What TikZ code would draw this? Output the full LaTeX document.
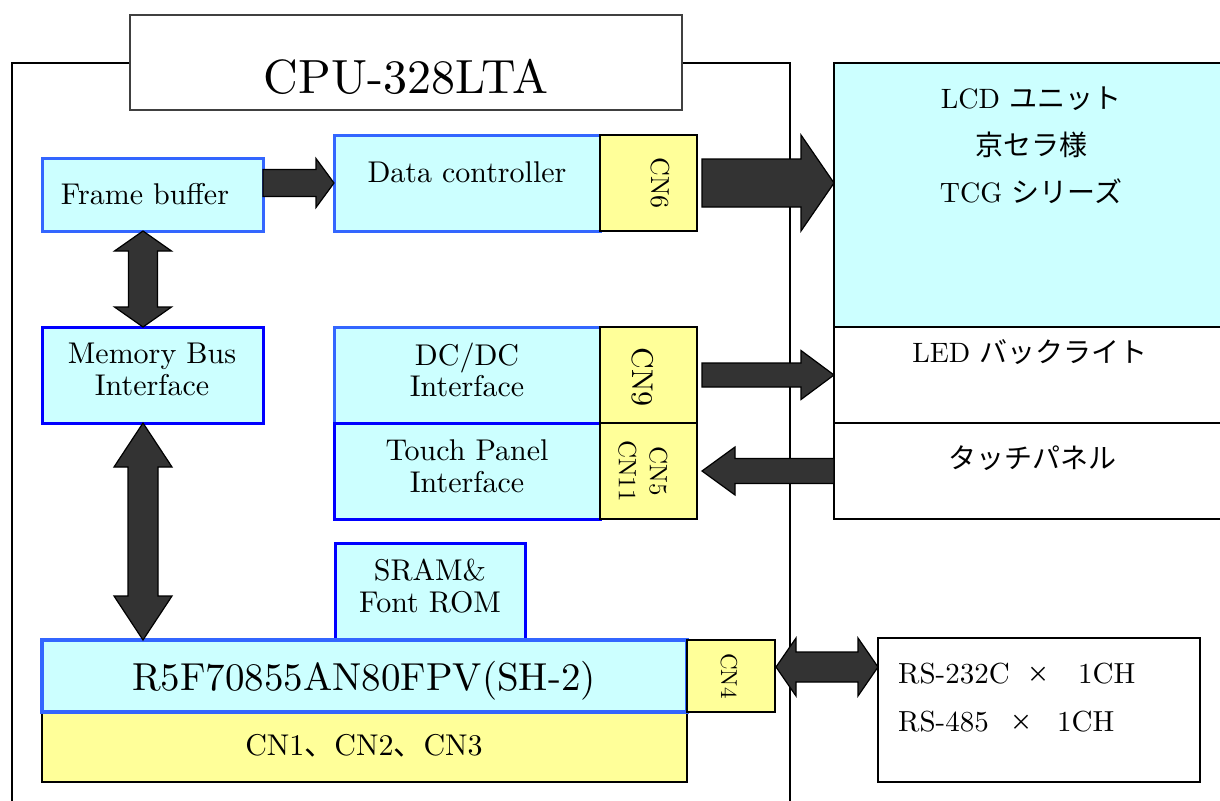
\documentclass[tikz,border=0pt]{standalone}
\usepackage{fontspec}
\setmainfont{lmroman10-regular.otf}
\newfontfamily\jp{Noto Sans CJK JP}
\usetikzlibrary{calc}
\definecolor{cy}{HTML}{CCFFFF}
\definecolor{yl}{HTML}{FFFF99}
\definecolor{lb}{HTML}{3366FF}
\definecolor{db}{HTML}{0000FF}
\definecolor{ar}{HTML}{333333}
\definecolor{tg}{HTML}{404040}
\newcommand\fs[1]{\fontsize{#1}{#1}\selectfont}
% single horizontal block arrow: tail, tip, shaft half, head half, signed head length
\newcommand\HArrow[5]{\draw[blk] let \p1=(#1),\p2=(#2) in
  (\x1,{\y2+#3}) -- ({\x2-(#5)},{\y2+#3}) -- ({\x2-(#5)},{\y2+#4}) -- (\x2,\y2)
  -- ({\x2-(#5)},{\y2-#4}) -- ({\x2-(#5)},{\y2-#3}) -- (\x1,{\y2-#3}) -- cycle;}
% double horizontal block arrow: left tip, right tip, shaft half, head half, head length
\newcommand\HHArrow[5]{\draw[blk] let \p1=(#1),\p2=(#2) in
  (\x1,\y1) -- ({\x1+#5},{\y1+#4}) -- ({\x1+#5},{\y1+#3}) -- ({\x2-#5},{\y1+#3})
  -- ({\x2-#5},{\y1+#4}) -- (\x2,\y1) -- ({\x2-#5},{\y1-#4}) -- ({\x2-#5},{\y1-#3})
  -- ({\x1+#5},{\y1-#3}) -- ({\x1+#5},{\y1-#4}) -- cycle;}
% double vertical block arrow: top tip, bottom tip, shaft half, head half, head length
\newcommand\VVArrow[5]{\draw[blk] let \p1=(#1),\p2=(#2) in
  (\x1,\y1) -- ({\x1+#4},{\y1-#5}) -- ({\x1+#3},{\y1-#5}) -- ({\x1+#3},{\y2+#5})
  -- ({\x1+#4},{\y2+#5}) -- (\x1,\y2) -- ({\x1-#4},{\y2+#5}) -- ({\x1-#3},{\y2+#5})
  -- ({\x1-#3},{\y1-#5}) -- ({\x1-#4},{\y1-#5}) -- cycle;}
\begin{document}
\begin{tikzpicture}[x=1pt,y=-1pt,
  bx/.style={anchor=north west,inner sep=0pt,outer sep=0pt},
  lbox/.style={bx,draw=lb,fill=cy,line width=3pt},
  dbox/.style={bx,draw=db,fill=cy,line width=3pt},
  cnbox/.style={bx,draw=black,fill=yl,line width=1.6pt},
  extbox/.style={bx,draw=black,fill=white,line width=1.6pt},
  lcdbox/.style={bx,draw=black,fill=cy,line width=1.6pt},
  titlebox/.style={bx,draw=tg,fill=white,line width=2pt},
  frame/.style={draw=black,line width=1.8pt},
  blk/.style={draw=black,fill=ar,line width=1.2pt,line join=miter},
  txt/.style={anchor=base,inner sep=0pt,font=\fs{30}},
  rtxt/.style={anchor=center,inner sep=0pt,rotate=-90},
  jtxt/.style={anchor=base,inner sep=0pt,font=\fs{28}},
]
\clip (0,0) rectangle (1220,800);
\fill[white] (0,0) rectangle (1220,800);

% board outline
\draw[frame] (12,810) -- (12,63) -- (790,63) -- (790,810);
\node[titlebox,minimum width=552pt,minimum height=95pt] (title) at (130,15) {};
\node[anchor=base,inner sep=0pt,font=\fs{48}] (titlet) at (406,93) {CPU-328LTA};

% internal blocks
\node[lbox,minimum width=221pt,minimum height=73pt] (fb) at (42,158) {};
\node[txt] (fbt) at (145,204) {Frame buffer};
\node[lbox,minimum width=266pt,minimum height=96pt] (dc) at (334,135) {};
\node[txt] (dct) at (467,182) {Data controller};
\node[cnbox,minimum width=97pt,minimum height=96pt] (cn6) at (600,135) {};
\node[rtxt,font=\fs{26}] (cn6t) at (660,183) {CN6};

\node[dbox,minimum width=221pt,minimum height=96pt] (mb) at (42,327) {};
\node[txt] (mbt1) at (152,363) {Memory Bus};
\node[txt] (mbt2) at (152,395) {Interface};

\node[lbox,minimum width=266pt,minimum height=96pt] (dcdc) at (334,327) {};
\node[txt] (dcdct1) at (467,365) {DC/DC};
\node[txt] (dcdct2) at (467,396) {Interface};
\node[dbox,minimum width=266pt,minimum height=96pt] (tp) at (334,423) {};
\node[txt] (tpt1) at (467,460) {Touch Panel};
\node[txt] (tpt2) at (467,492) {Interface};
\node[cnbox,minimum width=97pt,minimum height=96pt] (cn9) at (600,327) {};
\node[rtxt,font=\fs{30}] (cn9t) at (643,377) {CN9};
\node[cnbox,minimum width=97pt,minimum height=96pt] (cn5) at (600,423) {};
\node[rtxt,align=center,font=\fontsize{25}{31}\selectfont] (cn5t) at (643,471) {CN5\\CN11};

\node[dbox,minimum width=190pt,minimum height=97pt] (sram) at (335,543) {};
\node[txt] (sramt1) at (430,580) {SRAM\&};
\node[txt] (sramt2) at (430,612) {Font ROM};

\node[cnbox,minimum width=645pt,minimum height=70pt] (cn123) at (42,712) {};
\node[txt] (cn123t) at (364,755) {CN1{\jp 、}CN2{\jp 、}CN3};
\node[bx,draw=lb,fill=cy,line width=4pt,minimum width=645pt,minimum height=72pt] (cpu) at (42,640) {};
\node[anchor=base,inner sep=0pt,font=\fs{39}] (cput) at (364,690) {R5F70855AN80FPV(SH-2)};
\node[cnbox,minimum width=88pt,minimum height=72pt] (cn4) at (687,640) {};
\node[rtxt,font=\fs{23}] (cn4t) at (729,676) {CN4};

% external devices
\node[lcdbox,minimum width=400pt,minimum height=264pt] (lcd) at (834,63) {};
\node[jtxt] (lcdt1) at (1031,108) {LCD {\jp ユニット}};
\node[jtxt] (lcdt2) at (1031,155) {\jp 京セラ様};
\node[jtxt] (lcdt3) at (1031,202) {TCG {\jp シリーズ}};
\node[extbox,minimum width=400pt,minimum height=96pt] (led) at (834,327) {};
\node[jtxt] (ledt) at (1030,362) {LED {\jp バックライト}};
\node[extbox,minimum width=400pt,minimum height=96pt] (tpx) at (834,423) {};
\node[jtxt] (tpxt) at (1032,468) {\jp タッチパネル};

\node[extbox,minimum width=322pt,minimum height=144pt] (rs) at (878,638) {};
\node[anchor=base west,inner sep=0pt,font=\fs{29}] (rs1a) at (898,683) {RS-232C};
\node[anchor=base,inner sep=0pt,font=\fs{22}] (rs1b) at (1038,682) {\jp ×};
\node[anchor=base west,inner sep=0pt,font=\fs{29}] (rs1c) at (1078,683) {1CH};
\node[anchor=base west,inner sep=0pt,font=\fs{29}] (rs2a) at (898,731) {RS-485};
\node[anchor=base,inner sep=0pt,font=\fs{22}] (rs2b) at (1021,730) {\jp ×};
\node[anchor=base west,inner sep=0pt,font=\fs{29}] (rs2c) at (1057,731) {1CH};

% connectors
\coordinate (fbx) at ($(fb.south)+(-9.5,0)$);
\coordinate (mbx) at ($(mb.south)+(-9.5,0)$);
\coordinate (mbn) at ($(mb.north)+(-9.5,0)$);
\coordinate (c6) at ($(cn6.east)+(5,0)$);
\coordinate (c9) at ($(cn9.east)+(5,0)$);
\coordinate (c5) at ($(cn5.east)+(5,0)$);
\coordinate (c4) at ($(cn4.east)+(1,-9)$);

\HArrow{fb.east |- dc.west}{dc.west}{13.5pt}{24.5pt}{18pt}
\HArrow{c6}{lcd.west |- c6}{24pt}{48pt}{33pt}
\HArrow{c9}{led.west}{12pt}{24.5pt}{33pt}
\HArrow{tpx.west}{c5}{12.5pt}{24pt}{-33pt}
\VVArrow{fbx}{mbn}{14.5pt}{28.5pt}{20pt}
\VVArrow{mbx}{mbx |- cpu.north}{15pt}{29pt}{44pt}
\HHArrow{c4}{rs.west |- c4}{15pt}{29pt}{20pt}
\end{tikzpicture}
\end{document}
